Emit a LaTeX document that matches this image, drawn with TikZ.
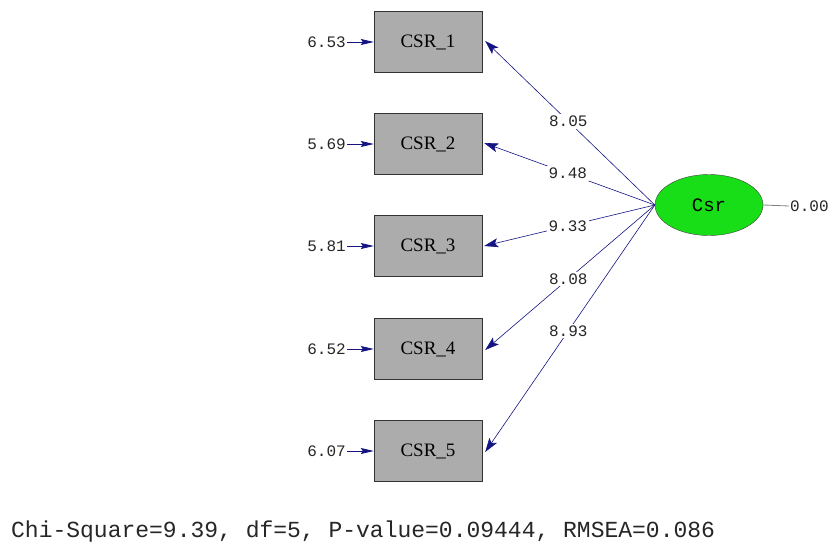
\documentclass[tikz,border=0pt]{standalone}
\usepackage{fontspec}
\setmainfont{Liberation Serif}
\newfontfamily\monofont{Liberation Mono}
\usetikzlibrary{arrows.meta,shapes.geometric}
\definecolor{pathblue}{RGB}{20,20,130}
\definecolor{boxgray}{RGB}{172,172,172}
\definecolor{latentgreen}{RGB}{24,222,24}
\begin{document}
\begin{tikzpicture}[x=1pt,y=-1pt,
  obsbox/.style={draw=black!80,fill=boxgray,minimum width=108pt,minimum height=61pt,inner sep=0pt,font=\fontsize{19}{19}\selectfont},
  latent/.style={ellipse,draw=black!75,fill=latentgreen,minimum width=108pt,minimum height=61pt,inner sep=0pt,font=\monofont\fontsize{19}{19}\selectfont},
  errlabel/.style={anchor=east,inner sep=1pt,text=black!85,font=\monofont\fontsize{16}{16}\selectfont},
  coeflabel/.style={fill=white,inner sep=2pt,text=black!85,font=\monofont\fontsize{16}{16}\selectfont},
  loading/.style={draw=pathblue,line width=0.6pt,-{Stealth[length=14pt,width=9pt,inset=3pt]}},
  errarrow/.style={draw=pathblue,line width=0.9pt,-{Stealth[length=13pt,width=6pt,inset=2pt]}}]
\useasboundingbox (0,0) rectangle (831,547);
\clip (0,0) rectangle (831,547);

% observed indicators
\node[obsbox] (c1) at (428,42) {CSR\_1};
\node[obsbox] (c2) at (428,144) {CSR\_2};
\node[obsbox] (c3) at (428,246) {CSR\_3};
\node[obsbox] (c4) at (428,349) {CSR\_4};
\node[obsbox] (c5) at (428,451) {CSR\_5};

% latent factor
\node[latent] (f) at (709,205) {Csr};

% error variances
\node[errlabel] (e1) at (347,42) {6.53};
\node[errlabel] (e2) at (347,144) {5.69};
\node[errlabel] (e3) at (347,246) {5.81};
\node[errlabel] (e4) at (347,349) {6.52};
\node[errlabel] (e5) at (347,451) {6.07};
\foreach \i in {1,...,5} \draw[errarrow] (e\i.east) -- (c\i.west);

% factor loadings
\coordinate (src) at (f.west);
\draw[loading] (src) -- node[coeflabel,pos=0.51] {8.05} ([xshift=3pt,yshift=1pt]c1.east);
\draw[loading] (src) -- node[coeflabel,pos=0.51] {9.48} ([xshift=2pt,yshift=1pt]c2.east);
\draw[loading] (src) -- node[coeflabel,pos=0.51] {9.33} ([xshift=2pt]c3.east);
\draw[loading] (src) -- node[coeflabel,pos=0.51] {8.08} ([xshift=3pt,yshift=-1pt]c4.east);
\draw[loading] (src) -- node[coeflabel,pos=0.51] {8.93} ([xshift=3pt,yshift=-1pt]c5.east);

% factor variance
\node[anchor=west,inner sep=1pt,text=black!85,font=\monofont\fontsize{16}{16}\selectfont] (v) at (789,206) {0.00};
\draw[gray,line width=0.8pt] (f.east) -- (v.west);

% fit statistics
\node[anchor=west,inner sep=0pt,text=black!85,font=\monofont\fontsize{23}{23}\selectfont] (fit) at (11,532) {Chi-Square=9.39, df=5, P-value=0.09444, RMSEA=0.086};
\end{tikzpicture}
\end{document}
